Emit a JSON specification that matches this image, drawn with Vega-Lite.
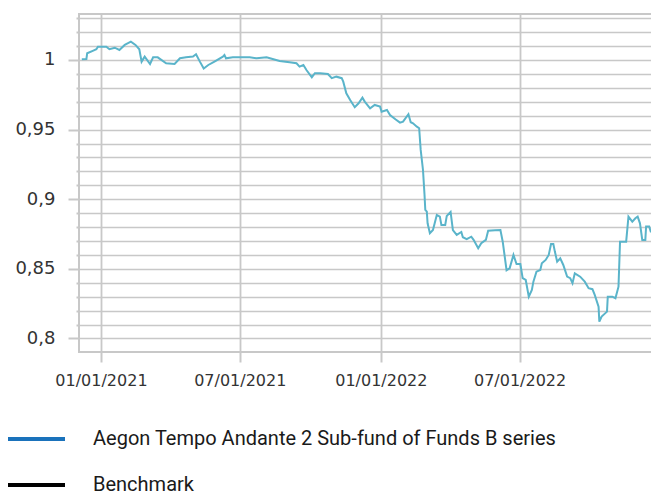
{
  "$schema": "https://vega.github.io/schema/vega-lite/v6.json",
  "width": 574,
  "height": 338,
  "autosize": {"type": "none"},
  "padding": {"left": 79, "top": 14, "right": 0, "bottom": 139},
  "background": "white",
  "config": {"view": {"stroke": "#c8c8c8", "strokeWidth": 2}},
  "encoding": {
    "x": {
      "field": "date",
      "type": "temporal",
      "scale": {
        "type": "utc",
        "domain": [
          {"year": 2020, "month": 12, "date": 3, "hours": 8, "utc": true},
          {"year": 2022, "month": 12, "date": 22, "utc": true}
        ]
      },
      "axis": {
        "values": [
          {"year": 2021, "month": 1, "date": 1, "utc": true},
          {"year": 2021, "month": 7, "date": 1, "utc": true},
          {"year": 2022, "month": 1, "date": 1, "utc": true},
          {"year": 2022, "month": 7, "date": 1, "utc": true}
        ],
        "format": "%m/%d/%Y",
        "title": null,
        "grid": true,
        "gridColor": "#c8c8c8",
        "gridWidth": 1.8,
        "domain": false,
        "tickSize": 10,
        "tickColor": "#c8c8c8",
        "tickWidth": 2,
        "labelFont": "DejaVu Sans",
        "labelFontSize": 16,
        "labelColor": "#333333",
        "labelPadding": 10,
        "labelFlush": false,
        "labelOverlap": false
      }
    },
    "y": {
      "field": "value",
      "type": "quantitative",
      "scale": {"domain": [0.7903, 1.033], "nice": false, "zero": false},
      "axis": {
        "values": [0.79, 0.8, 0.81, 0.82, 0.83, 0.84, 0.85, 0.86, 0.87, 0.88, 0.89, 0.9, 0.91, 0.92, 0.93, 0.94, 0.95, 0.96, 0.97, 0.98, 0.99, 1.0, 1.01, 1.02, 1.03],
        "title": null,
        "grid": true,
        "gridColor": "#c8c8c8",
        "gridWidth": 1.3,
        "domain": false,
        "tickSize": 11,
        "tickColor": "#c8c8c8",
        "tickWidth": 2,
        "tickDash": {"condition": {"test": "abs(datum.value*20 - round(datum.value*20)) > 0.001", "value": [3, 20]}, "value": [20, 0]},
        "labelExpr": "abs(datum.value*20 - round(datum.value*20)) < 0.001 ? replace(format(datum.value, '.2~f'), '.', ',') : ''",
        "labelFont": "DejaVu Sans",
        "labelFontSize": 18,
        "labelColor": "#333333",
        "labelPadding": 13,
        "labelOverlap": false
      }
    }
  },
  "layer": [
    {
      "data": {"values": [
        {"date": "2020-12-07", "value": 1.0005},
        {"date": "2020-12-13", "value": 1.0007},
        {"date": "2020-12-14", "value": 1.0048},
        {"date": "2020-12-22", "value": 1.0067},
        {"date": "2020-12-26", "value": 1.0077},
        {"date": "2020-12-28", "value": 1.0095},
        {"date": "2021-01-08", "value": 1.0095},
        {"date": "2021-01-12", "value": 1.0077},
        {"date": "2021-01-19", "value": 1.0088},
        {"date": "2021-01-25", "value": 1.0072},
        {"date": "2021-02-01", "value": 1.0108},
        {"date": "2021-02-09", "value": 1.0131},
        {"date": "2021-02-15", "value": 1.0108},
        {"date": "2021-02-20", "value": 1.0077},
        {"date": "2021-02-23", "value": 0.9988},
        {"date": "2021-02-27", "value": 1.0024},
        {"date": "2021-03-06", "value": 0.9971},
        {"date": "2021-03-10", "value": 1.0019},
        {"date": "2021-03-16", "value": 1.0019},
        {"date": "2021-03-27", "value": 0.9976},
        {"date": "2021-04-07", "value": 0.9971},
        {"date": "2021-04-14", "value": 1.0012},
        {"date": "2021-04-22", "value": 1.0019},
        {"date": "2021-05-01", "value": 1.0024},
        {"date": "2021-05-05", "value": 1.0041},
        {"date": "2021-05-10", "value": 0.9988},
        {"date": "2021-05-15", "value": 0.9939},
        {"date": "2021-05-21", "value": 0.9964},
        {"date": "2021-05-29", "value": 0.9988},
        {"date": "2021-06-09", "value": 1.0024},
        {"date": "2021-06-11", "value": 1.0036},
        {"date": "2021-06-13", "value": 1.0012},
        {"date": "2021-06-22", "value": 1.0019},
        {"date": "2021-07-01", "value": 1.0019},
        {"date": "2021-07-14", "value": 1.0019},
        {"date": "2021-07-23", "value": 1.0012},
        {"date": "2021-08-05", "value": 1.0019},
        {"date": "2021-08-14", "value": 1.0005},
        {"date": "2021-08-22", "value": 0.9993},
        {"date": "2021-09-04", "value": 0.9983},
        {"date": "2021-09-13", "value": 0.9976},
        {"date": "2021-09-17", "value": 0.9952},
        {"date": "2021-09-22", "value": 0.9964},
        {"date": "2021-09-26", "value": 0.9928},
        {"date": "2021-10-03", "value": 0.9876},
        {"date": "2021-10-07", "value": 0.9905},
        {"date": "2021-10-14", "value": 0.9905},
        {"date": "2021-10-24", "value": 0.9899},
        {"date": "2021-10-29", "value": 0.9869},
        {"date": "2021-11-04", "value": 0.988},
        {"date": "2021-11-11", "value": 0.9869},
        {"date": "2021-11-13", "value": 0.9844},
        {"date": "2021-11-17", "value": 0.9761},
        {"date": "2021-11-22", "value": 0.9713},
        {"date": "2021-11-28", "value": 0.9661},
        {"date": "2021-12-03", "value": 0.9689},
        {"date": "2021-12-08", "value": 0.9729},
        {"date": "2021-12-11", "value": 0.9701},
        {"date": "2021-12-18", "value": 0.9653},
        {"date": "2021-12-24", "value": 0.9677},
        {"date": "2021-12-31", "value": 0.9665},
        {"date": "2022-01-02", "value": 0.9629},
        {"date": "2022-01-09", "value": 0.9641},
        {"date": "2022-01-13", "value": 0.9605},
        {"date": "2022-01-20", "value": 0.9574},
        {"date": "2022-01-26", "value": 0.955},
        {"date": "2022-01-30", "value": 0.9557},
        {"date": "2022-02-06", "value": 0.961},
        {"date": "2022-02-09", "value": 0.9553},
        {"date": "2022-02-12", "value": 0.9545},
        {"date": "2022-02-17", "value": 0.9521},
        {"date": "2022-02-20", "value": 0.951},
        {"date": "2022-02-22", "value": 0.9354},
        {"date": "2022-02-25", "value": 0.921},
        {"date": "2022-02-27", "value": 0.9031},
        {"date": "2022-02-28", "value": 0.8923},
        {"date": "2022-03-02", "value": 0.8911},
        {"date": "2022-03-03", "value": 0.8827},
        {"date": "2022-03-06", "value": 0.8756},
        {"date": "2022-03-10", "value": 0.8779},
        {"date": "2022-03-15", "value": 0.8887},
        {"date": "2022-03-19", "value": 0.8875},
        {"date": "2022-03-21", "value": 0.8815},
        {"date": "2022-03-26", "value": 0.8815},
        {"date": "2022-03-28", "value": 0.888},
        {"date": "2022-04-02", "value": 0.8909},
        {"date": "2022-04-05", "value": 0.8779},
        {"date": "2022-04-10", "value": 0.8744},
        {"date": "2022-04-16", "value": 0.8765},
        {"date": "2022-04-18", "value": 0.8727},
        {"date": "2022-04-23", "value": 0.8713},
        {"date": "2022-04-29", "value": 0.8731},
        {"date": "2022-05-02", "value": 0.8708},
        {"date": "2022-05-08", "value": 0.8648},
        {"date": "2022-05-12", "value": 0.8684},
        {"date": "2022-05-18", "value": 0.8708},
        {"date": "2022-05-21", "value": 0.8774},
        {"date": "2022-05-30", "value": 0.8777},
        {"date": "2022-06-06", "value": 0.8779},
        {"date": "2022-06-09", "value": 0.8695},
        {"date": "2022-06-14", "value": 0.849},
        {"date": "2022-06-18", "value": 0.8504},
        {"date": "2022-06-23", "value": 0.86},
        {"date": "2022-06-27", "value": 0.8535},
        {"date": "2022-07-02", "value": 0.8535},
        {"date": "2022-07-05", "value": 0.8433},
        {"date": "2022-07-09", "value": 0.842},
        {"date": "2022-07-13", "value": 0.83},
        {"date": "2022-07-17", "value": 0.8349},
        {"date": "2022-07-19", "value": 0.8408},
        {"date": "2022-07-23", "value": 0.848},
        {"date": "2022-07-28", "value": 0.8492},
        {"date": "2022-07-30", "value": 0.854},
        {"date": "2022-08-04", "value": 0.8564},
        {"date": "2022-08-08", "value": 0.86},
        {"date": "2022-08-11", "value": 0.8679},
        {"date": "2022-08-14", "value": 0.8679},
        {"date": "2022-08-16", "value": 0.8624},
        {"date": "2022-08-19", "value": 0.8552},
        {"date": "2022-08-23", "value": 0.8576},
        {"date": "2022-08-27", "value": 0.8528},
        {"date": "2022-09-01", "value": 0.8444},
        {"date": "2022-09-05", "value": 0.8433},
        {"date": "2022-09-08", "value": 0.8397},
        {"date": "2022-09-11", "value": 0.8468},
        {"date": "2022-09-18", "value": 0.8444},
        {"date": "2022-09-24", "value": 0.8408},
        {"date": "2022-09-29", "value": 0.8361},
        {"date": "2022-10-04", "value": 0.8354},
        {"date": "2022-10-07", "value": 0.8313},
        {"date": "2022-10-12", "value": 0.8229},
        {"date": "2022-10-13", "value": 0.8121},
        {"date": "2022-10-16", "value": 0.8157},
        {"date": "2022-10-23", "value": 0.8193},
        {"date": "2022-10-24", "value": 0.83},
        {"date": "2022-10-30", "value": 0.83},
        {"date": "2022-11-03", "value": 0.8289},
        {"date": "2022-11-07", "value": 0.8372},
        {"date": "2022-11-09", "value": 0.8695},
        {"date": "2022-11-13", "value": 0.8695},
        {"date": "2022-11-17", "value": 0.8695},
        {"date": "2022-11-20", "value": 0.8875},
        {"date": "2022-11-25", "value": 0.8839},
        {"date": "2022-11-29", "value": 0.8863},
        {"date": "2022-12-02", "value": 0.8875},
        {"date": "2022-12-05", "value": 0.8827},
        {"date": "2022-12-08", "value": 0.8708},
        {"date": "2022-12-12", "value": 0.8708},
        {"date": "2022-12-13", "value": 0.8804},
        {"date": "2022-12-17", "value": 0.8804},
        {"date": "2022-12-19", "value": 0.8768},
        {"date": "2022-12-21", "value": 0.8768}
      ]},
      "mark": {"type": "line", "strokeWidth": 2, "clip": true, "color": "#5ab4ca"}
    },
    {
      "data": {"values": []},
      "mark": {"type": "line", "strokeWidth": 4},
      "encoding": {
        "color": {
          "field": "series",
          "type": "nominal",
          "scale": {
            "domain": ["Aegon Tempo Andante 2 Sub-fund of Funds B series", "Benchmark"],
            "range": ["#1a72bb", "#000000"]
          },
          "legend": {
            "orient": "none",
            "legendX": -73,
            "legendY": 394.5,
            "title": null,
            "direction": "vertical",
            "symbolType": "stroke",
            "symbolSize": 3249,
            "symbolStrokeWidth": 4,
            "labelFont": "Roboto",
            "labelFontSize": 20,
            "labelColor": "#1a1a1a",
            "labelOffset": 26,
            "labelLimit": 700,
            "rowPadding": 5,
            "padding": 0
          }
        }
      }
    }
  ]
}
